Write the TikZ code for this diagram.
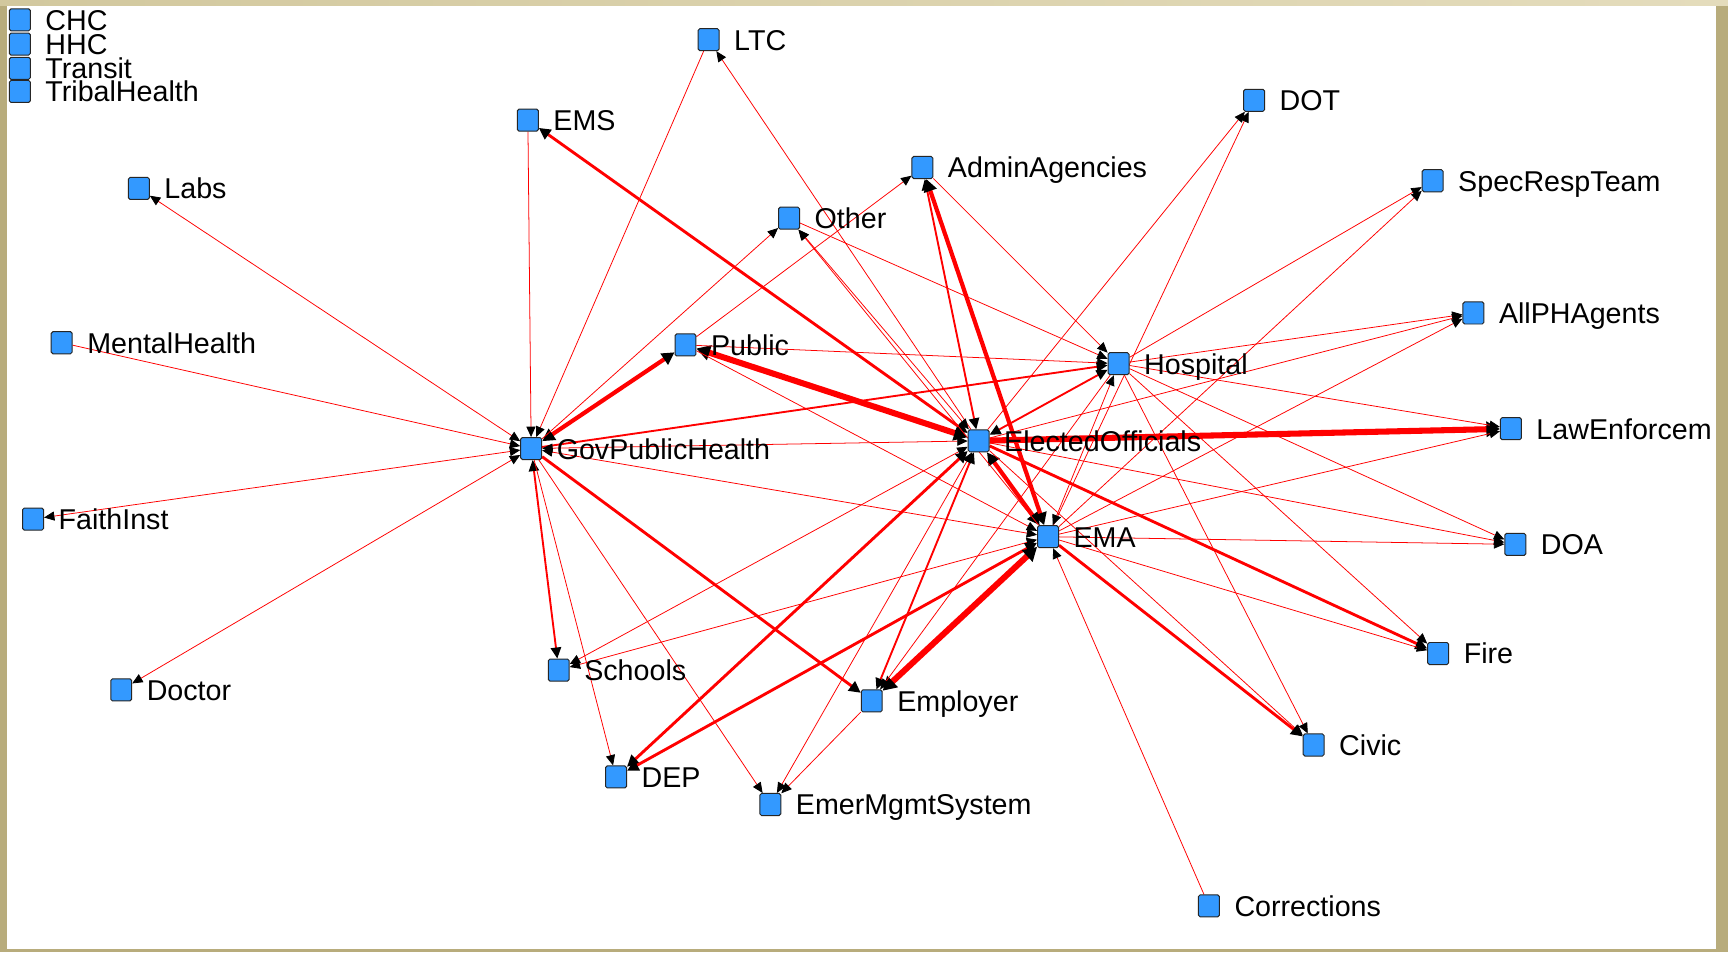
\documentclass[tikz,border=0pt]{standalone}
\usepackage{fontspec}
\setmainfont{Liberation Sans}
\usetikzlibrary{arrows.meta}
\definecolor{nodeblue}{HTML}{3399FF}
\definecolor{frameside}{HTML}{B8AC7C}
\definecolor{frametopA}{HTML}{D2C89E}
\definecolor{frametopB}{HTML}{E4DCBC}
\pgfdeclarelayer{back}
\pgfdeclarelayer{edges}
\pgfsetlayers{back,edges,main}
\newcommand\mknode[4]{%
  \node[sq] (#1) at (#2,-#3) {};
  \node[lab] (#1-t) at (#2+23,-#3-9.5) {#4};}
\begin{document}
\begin{tikzpicture}[x=1pt,y=1pt,
  sq/.style={draw=black!85, line width=0.9pt, fill=nodeblue, minimum width=19pt,
    minimum height=20pt, inner sep=0pt, rounded corners=1.5pt},
  lab/.style={anchor=base west, inner sep=0pt, font=\fontsize{26}{26}\selectfont, text=black},
  >={Triangle[length=9pt 0.6,width=7.5pt 1.1,color=black]},
  ea/.style={draw=red, line width=0.7pt},
  eb/.style={draw=red, line width=1.7pt},
  ec/.style={draw=red, line width=2.6pt},
  ed/.style={draw=red, line width=3.8pt},
  ee/.style={draw=red, line width=5.5pt}]
\useasboundingbox (0,0) rectangle (1568,-864);
\begin{pgfonlayer}{back}
  \fill[white] (0,0) rectangle (1568,-864);
\end{pgfonlayer}

\mknode{chc}{18}{18}{CHC}
\mknode{hhc}{18}{40}{HHC}
\mknode{transit}{18}{62}{Transit}
\mknode{tribal}{18}{83}{TribalHealth}
\mknode{ltc}{643}{36}{LTC}
\mknode{ems}{479}{109}{EMS}
\mknode{dot}{1138}{91}{DOT}
\mknode{adm}{837}{152}{AdminAgencies}
\mknode{srt}{1300}{164}{SpecRespTeam}
\mknode{labs}{126}{171}{Labs}
\mknode{oth}{716}{198}{Other}
\mknode{aph}{1337}{284}{AllPHAgents}
\mknode{mh}{56}{311}{MentalHealth}
\mknode{pub}{622}{313}{Public}
\mknode{hosp}{1015}{330}{Hospital}
\mknode{le}{1371}{389}{LawEnforcem}
\mknode{eo}{888}{400}{ElectedOfficials}
\mknode{gph}{482}{407}{GovPublicHealth}
\mknode{faith}{30}{471}{FaithInst}
\mknode{ema}{951}{487}{EMA}
\mknode{doa}{1375}{494}{DOA}
\mknode{fire}{1305}{593}{Fire}
\mknode{sch}{507}{608}{Schools}
\mknode{doc}{110}{626}{Doctor}
\mknode{emp}{791}{636}{Employer}
\mknode{civic}{1192}{676}{Civic}
\mknode{dep}{559}{705}{DEP}
\mknode{emsys}{699}{730}{EmerMgmtSystem}
\mknode{corr}{1097}{822}{Corrections}

\begin{pgfonlayer}{edges}
  % GovPublicHealth
  \draw[ea,<->] (gph) -- (labs);
  \draw[ea,->] (mh) -- (gph);
  \draw[ea,<->] (gph) -- (faith);
  \draw[ea,<->] (gph) -- (doc);
  \draw[ea,->] (ems) -- (gph);
  \draw[ea,->] (ltc) -- (gph);
  \draw[ed,<->] (gph) -- (pub);
  \draw[ea,->] (gph) -- (oth);
  \draw[eb,->] (gph) -- (hosp);
  \draw[ea,<->] (gph) -- (eo);
  \draw[ea,<->] (gph) -- (ema);
  \draw[ec,->] (gph) -- (emp);
  \draw[eb,<->] (gph) -- (sch);
  \draw[ea,->] (gph) -- (dep);
  \draw[ea,->] (gph) -- (emsys);
  % Public
  \draw[ea,->] (pub) -- (adm);
  \draw[ee,<->] (eo) -- (pub);
  \draw[ea,->] (pub) -- (hosp);
  \draw[ea,->] (pub) -- (ema);
  % ElectedOfficials
  \draw[ec,<->] (eo) -- (ems);
  \draw[ea,->] (eo) -- (ltc);
  \draw[ea,<->] (eo) -- (oth);
  \draw[eb,<->] (adm) -- (eo);
  \draw[ee,->] (eo) -- (le);
  \draw[ec,->] (eo) -- (fire);
  \draw[ea,->] (eo) -- (doa);
  \draw[ed,<->] (eo) -- (ema);
  \draw[eb,<->] (eo) -- (hosp);
  \draw[ea,->] (eo) -- (dot);
  \draw[ea,->] (eo) -- (aph);
  \draw[ea,->] (eo) -- (civic);
  \draw[ea,<->] (eo) -- (sch);
  \draw[ec,<->] (eo) -- (dep);
  \draw[eb,<->] (eo) -- (emp);
  \draw[ea,<->] (eo) -- (emsys);
  % EMA
  \draw[ea,->] (ema) -- (oth);
  \draw[ed,<->] (adm) -- (ema);
  \draw[ea,->] (ema) -- (doa);
  \draw[ea,->] (ema) -- (srt);
  \draw[ea,->] (ema) -- (dot);
  \draw[ea,->] (ema) -- (aph);
  \draw[ea,->] (ema) -- (le);
  \draw[ea,->] (ema) -- (fire);
  \draw[ec,->] (ema) -- (civic);
  \draw[ea,->] (corr) -- (ema);
  \draw[ea,<->] (ema) -- (hosp);
  \draw[ea,<->] (ema) -- (sch);
  \draw[ec,<->] (ema) -- (dep);
  \draw[ee,<->] (ema) -- (emp);
  % Hospital
  \draw[ea,->] (oth) -- (hosp);
  \draw[ea,->] (adm) -- (hosp);
  \draw[ea,->] (hosp) -- (doa);
  \draw[ea,->] (hosp) -- (srt);
  \draw[ea,->] (hosp) -- (aph);
  \draw[ea,->] (hosp) -- (le);
  \draw[ea,->] (hosp) -- (fire);
  \draw[ea,->] (hosp) -- (civic);
  \draw[ea,->] (hosp) -- (emp);
  % lower
  \draw[ea,->] (emp) -- (emsys);
\end{pgfonlayer}

% frame
\fill[frameside] (0,0) rectangle (6,-864);
\fill[frameside] (1557,0) rectangle (1568,-864);
\shade[left color=frametopA, right color=frametopB] (0,0) rectangle (1568,-5);
\fill[frameside] (0,-861) rectangle (1568,-864);
\end{tikzpicture}
\end{document}
